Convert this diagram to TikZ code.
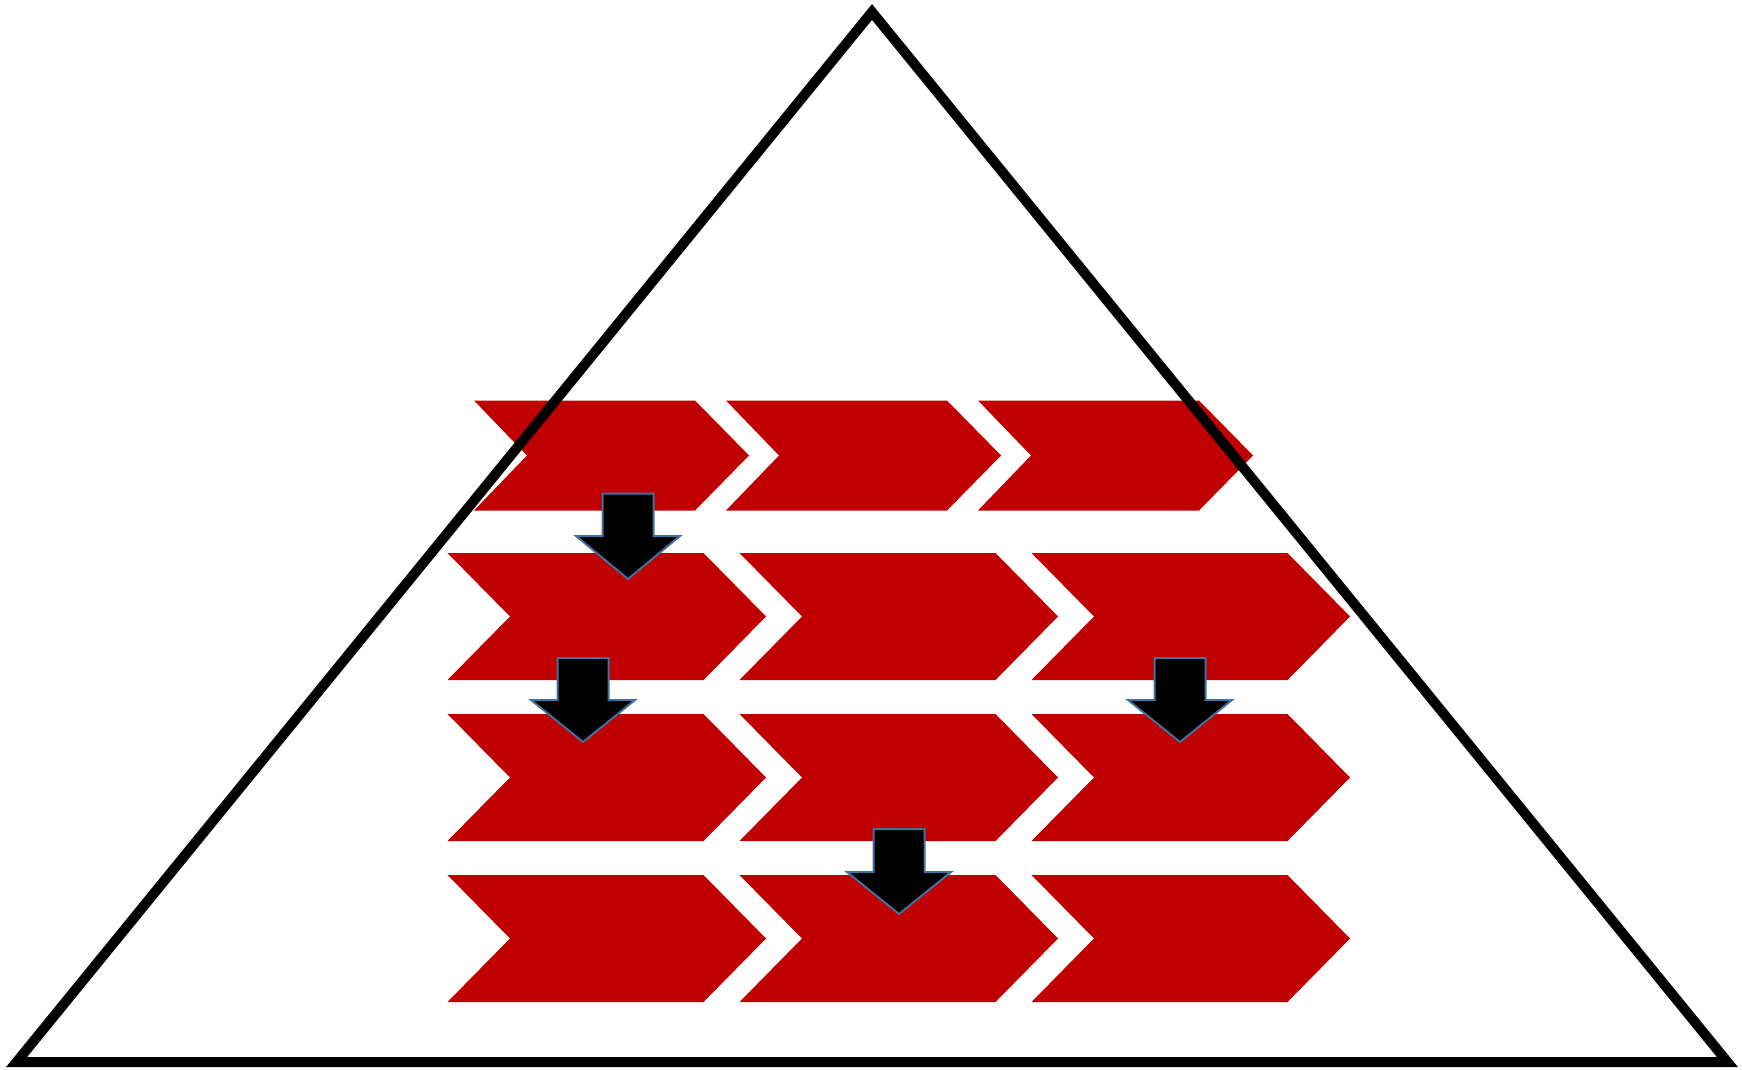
\documentclass[tikz,border=0pt]{standalone}
\begin{document}
\begin{tikzpicture}[x=1pt,y=-1pt,
  chevfill/.style={fill={rgb,255:red,192;green,0;blue,0}, draw=none},
  downarrow/.style={fill=black, draw={rgb,255:red,65;green,113;blue,156}, line width=2pt, line join=miter},
  pyramid/.style={draw=black, line width=10pt, line join=miter}]
\useasboundingbox (0,0) rectangle (1742,1070);
% row 1 (small chevrons)
\foreach \xo in {474,726,978}{
  \path[chevfill] (\xo,400.5) -- ++(221,0) -- ++(54,55) -- ++(-54,55) -- ++(-221,0) -- ++(53,-55) -- cycle;
}
% rows 2-4
\foreach \yt in {553,714,875}{
  \foreach \xo in {447.5,739.5,1031.5}{
    \path[chevfill] (\xo,\yt) -- ++(256,0) -- ++(62.5,63.5) -- ++(-62.5,63.5) -- ++(-256,0) -- ++(62.5,-63.5) -- cycle;
  }
}
% down arrows
\foreach \cx/\ty/\by/\tipy in {628/493.5/536/579, 583/658/700/742, 1180/658/700/742, 899/829/872/914}{
  \path[downarrow] (\cx-25.5,\ty) -- (\cx+25.5,\ty) -- (\cx+25.5,\by) -- (\cx+52,\by) -- (\cx,\tipy) -- (\cx-52,\by) -- (\cx-25.5,\by) -- cycle;
}
% pyramid outline
\coordinate (apex) at (872,12);
\coordinate (bl) at (16.6,1062);
\coordinate (br) at (1727.4,1062);
\draw[pyramid] (apex) -- (br) -- (bl) -- cycle;
\end{tikzpicture}
\end{document}
